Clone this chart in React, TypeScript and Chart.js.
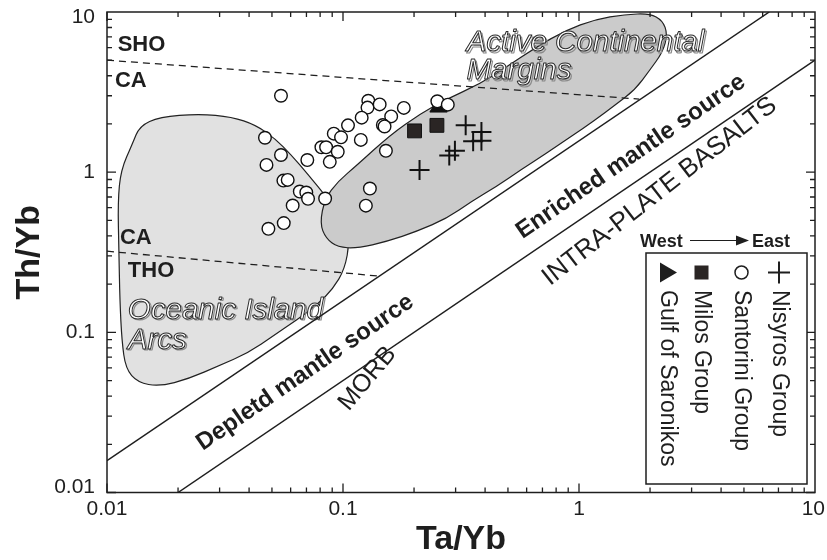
import React, { useEffect, useRef } from "react";
import { Chart, registerables } from "chart.js";

Chart.register(...registerables);

const FONT = '"Liberation Sans", Arial, Helvetica, sans-serif';
const INK = "#1e1e1e";

// Axis ticks (log-log, both axes 0.01–10)
const tickValues = [0.01, 0.1, 1, 10];
const tickLabels = ["0.01", "0.1", "1", "10"];

// Sample groups: Ta/Yb (x) and Th/Yb (y)
const nisyrosTa = [0.331, 0.386, 0.386, 0.356, 0.298, 0.282, 0.211];
const nisyrosTh = [1.96, 1.78, 1.57, 1.56, 1.36, 1.27, 1.03];

const santoriniTa = [
  0.0546, 0.0467, 0.0546, 0.0706, 0.0474, 0.0559, 0.0583, 0.0656, 0.0699, 0.0711,
  0.084, 0.0612, 0.0483, 0.0561, 0.128, 0.127, 0.143, 0.181, 0.12, 0.105,
  0.0914, 0.0981, 0.119, 0.16, 0.1475, 0.15, 0.152, 0.081, 0.0848, 0.095,
  0.0879, 0.13, 0.125, 0.251, 0.278,
];
const santoriniTh = [
  3.0, 1.64, 1.28, 1.19, 1.11, 0.886, 0.895, 0.757, 0.746, 0.682,
  0.685, 0.619, 0.443, 0.481, 2.79, 2.53, 2.65, 2.52, 2.19, 1.96,
  1.74, 1.65, 1.59, 2.23, 1.97, 1.93, 1.36, 1.43, 1.43, 1.34,
  1.16, 0.79, 0.618, 2.77, 2.64,
];

const milosTa = [0.201, 0.25];
const milosTh = [1.81, 1.96];

const saronikosTa = [0.254];
const saronikosTh = [2.55];

// Oceanic Island Arcs field outline
const oiaTa = [
  0.02457, 0.0338, 0.0426, 0.0517, 0.0603, 0.0711, 0.0863, 0.0997, 0.1067, 0.1017,
  0.0905, 0.0783, 0.0646, 0.0507, 0.0398, 0.0298, 0.0223, 0.0167, 0.0135, 0.012,
  0.01156, 0.01134, 0.01123, 0.01112, 0.01145, 0.0128, 0.01375, 0.0167,
];
const oiaTh = [
  2.309, 2.212, 1.972, 1.615, 1.284, 0.965, 0.6846, 0.507, 0.37, 0.248,
  0.1863, 0.1503, 0.1213, 0.0951, 0.0746, 0.0619, 0.0514, 0.0459, 0.0486, 0.0593,
  0.0886, 0.157, 0.3208, 0.656, 1.03, 1.5, 1.944, 2.212,
];

// Active Continental Margins field outline
const acmTa = [
  0.0798, 0.0838, 0.095, 0.1152, 0.1586, 0.2119, 0.2751, 0.3784, 0.4911, 0.6561,
  0.8768, 1.172, 1.565, 1.993, 2.261, 2.373, 2.261, 1.993, 1.725, 1.421,
  1.172, 0.92, 0.7228, 0.5677, 0.4459, 0.3502, 0.2751, 0.2058, 0.154, 0.1152,
  0.095, 0.0846,
];
const acmTh = [
  0.4787, 0.6846, 0.873, 1.113, 1.71, 2.309, 2.861, 3.545, 4.521, 6.018,
  7.676, 8.984, 9.65, 9.79, 8.855, 7.248, 5.603, 4.33, 3.254, 2.626,
  2.119, 1.662, 1.302, 1.036, 0.8127, 0.656, 0.514, 0.4269, 0.37, 0.3348,
  0.3398, 0.3864,
];

// Mantle array boundaries and magma-series dividers
const mantleUpperTa = [0.01, 6.4];
const mantleUpperTh = [0.0158, 10];
const mantleLowerTa = [0.02, 10];
const mantleLowerTh = [0.01, 5];
const shoCaTa = [0.01, 1.8];
const shoCaTh = [5.0, 2.86];
const caThoTa = [0.01, 0.144];
const caThoTh = [0.321, 0.224];

const pts = (xs: number[], ys: number[]) => xs.map((x, i) => ({ x, y: ys[i] }));

const seriesLabels = ["Nisyros Group", "Santorini Group", "Milos Group", "Gulf of Saronikos"];

function smoothClosed(ctx: CanvasRenderingContext2D, p: number[][]) {
  const n = p.length;
  const mid = (a: number[], b: number[]) => [(a[0] + b[0]) / 2, (a[1] + b[1]) / 2];
  const m0 = mid(p[n - 1], p[0]);
  ctx.beginPath();
  ctx.moveTo(m0[0], m0[1]);
  for (let i = 0; i < n; i++) {
    const m = mid(p[i], p[(i + 1) % n]);
    ctx.quadraticCurveTo(p[i][0], p[i][1], m[0], m[1]);
  }
  ctx.closePath();
}

function hollowText(ctx: CanvasRenderingContext2D, text: string, x: number, y: number) {
  ctx.save();
  ctx.font = `italic 29.5px ${FONT}`;
  ctx.textAlign = "left";
  ctx.textBaseline = "alphabetic";
  ctx.lineJoin = "round";
  ctx.strokeStyle = "#8a8a8a";
  ctx.lineWidth = 1.2;
  ctx.strokeText(text, x + 1.5, y + 1.5);
  ctx.fillStyle = "#ffffff";
  ctx.fillText(text, x, y);
  ctx.strokeStyle = "#2a2a2a";
  ctx.lineWidth = 1;
  ctx.strokeText(text, x, y);
  ctx.restore();
}

const fieldsPlugin = {
  id: "fields",
  beforeDatasetsDraw(chart: any) {
    const { ctx, chartArea: a, scales } = chart;
    const X = (v: number) => scales.x.getPixelForValue(v);
    const Y = (v: number) => scales.y.getPixelForValue(v);
    ctx.save();
    ctx.beginPath();
    ctx.rect(a.left, a.top, a.right - a.left, a.bottom - a.top);
    ctx.clip();

    const drawField = (xs: number[], ys: number[], fill: string) => {
      smoothClosed(ctx, xs.map((v, i) => [X(v), Y(ys[i])]));
      ctx.fillStyle = fill;
      ctx.fill();
      ctx.strokeStyle = "#222";
      ctx.lineWidth = 1.2;
      ctx.stroke();
    };
    drawField(oiaTa, oiaTh, "#e1e1e1");
    drawField(acmTa, acmTh, "#cbcbcb");

    // series labels
    ctx.fillStyle = INK;
    ctx.font = `bold 22px ${FONT}`;
    ctx.textAlign = "left";
    ctx.textBaseline = "alphabetic";
    ctx.fillText("SHO", X(0.0111), Y(5.68));
    ctx.fillText("CA", X(0.0108), Y(3.4));
    ctx.fillText("CA", X(0.01134), Y(0.3546));
    ctx.fillText("THO", X(0.01225), Y(0.2212));

    hollowText(ctx, "Oceanic Island", X(0.01225), Y(0.1213));
    hollowText(ctx, "Arcs", X(0.01225), Y(0.079));
    hollowText(ctx, "Active Continental", X(0.3338), Y(5.684));
    hollowText(ctx, "Margins", X(0.3338), Y(3.81));

    const rotated = (text: string, vx: number, vy: number, deg: number, font: string) => {
      ctx.save();
      ctx.translate(X(vx), Y(vy));
      ctx.rotate((deg * Math.PI) / 180);
      ctx.font = font;
      ctx.textAlign = "center";
      ctx.textBaseline = "middle";
      ctx.fillStyle = INK;
      ctx.fillText(text, 0, 0);
      ctx.restore();
    };
    rotated("Depletd mantle source", 0.0691, 0.056, -34.5, `bold 24px ${FONT}`);
    rotated("Enriched mantle source", 1.659, 1.248, -34.5, `bold 24px ${FONT}`);
    rotated("INTRA-PLATE BASALTS", 2.196, 0.7567, -38, `26px ${FONT}`);
    rotated("MORB", 0.127, 0.0514, -50, `25px ${FONT}`);
    ctx.restore();
  },
  afterDraw(chart: any) {
    const { ctx, chartArea: a, scales } = chart;
    const X = (v: number) => scales.x.getPixelForValue(v);
    const Y = (v: number) => scales.y.getPixelForValue(v);
    ctx.save();
    ctx.strokeStyle = INK;
    ctx.lineWidth = 1.5;
    ctx.strokeRect(a.left, a.top, a.right - a.left, a.bottom - a.top);

    // inward ticks on all four sides
    ctx.lineWidth = 1.3;
    ctx.beginPath();
    for (let d = 0; d < tickValues.length - 1; d++) {
      for (let m = 1; m <= 9; m++) {
        const v = tickValues[d] * m;
        const len = m === 1 ? 9 : 5;
        const xp = X(v);
        const yp = Y(v);
        ctx.moveTo(xp, a.bottom);
        ctx.lineTo(xp, a.bottom - len);
        ctx.moveTo(xp, a.top);
        ctx.lineTo(xp, a.top + len);
        ctx.moveTo(a.left, yp);
        ctx.lineTo(a.left + len, yp);
        ctx.moveTo(a.right, yp);
        ctx.lineTo(a.right - len, yp);
      }
    }
    ctx.stroke();

    // tick labels, kept inside the canvas at the ends
    ctx.fillStyle = INK;
    ctx.font = `21px ${FONT}`;
    ctx.textBaseline = "middle";
    tickValues.forEach((v, i) => {
      ctx.textAlign = "right";
      const yp = Math.min(Math.max(Y(v), a.top + 5), a.bottom - 5);
      ctx.fillText(tickLabels[i], a.left - 12, yp);
      ctx.textAlign = "center";
      const w = ctx.measureText(tickLabels[i]).width;
      const xp = Math.min(X(v), 825 - w / 2);
      ctx.fillText(tickLabels[i], xp, a.bottom + 17);
    });

    // axis titles
    ctx.font = `bold 34px ${FONT}`;
    ctx.textAlign = "center";
    ctx.textBaseline = "middle";
    ctx.fillText("Ta/Yb", (a.left + a.right) / 2, 540);
    ctx.save();
    ctx.translate(30, (a.top + a.bottom) / 2);
    ctx.rotate(-Math.PI / 2);
    ctx.fillText("Th/Yb", 0, 0);
    ctx.restore();

    // legend
    const bx = 646, by = 253, bw = 161, bh = 231;
    ctx.fillStyle = "#fff";
    ctx.fillRect(bx, by, bw, bh);
    ctx.lineWidth = 1.5;
    ctx.strokeStyle = INK;
    ctx.strokeRect(bx, by, bw, bh);

    ctx.font = `bold 18px ${FONT}`;
    ctx.textAlign = "left";
    ctx.textBaseline = "alphabetic";
    ctx.fillStyle = INK;
    ctx.fillText("West", 640, 247);
    ctx.fillText("East", 752, 247);
    ctx.beginPath();
    ctx.lineWidth = 1.2;
    ctx.moveTo(690, 240.5);
    ctx.lineTo(738, 240.5);
    ctx.stroke();
    ctx.beginPath();
    ctx.moveTo(749, 240.5);
    ctx.lineTo(736, 235.5);
    ctx.lineTo(736, 245.5);
    ctx.closePath();
    ctx.fill();

    const cols = [667, 701.5, 741.5, 779];
    const symY = 272.5;
    const order = [3, 2, 1, 0];
    order.forEach((si, k) => {
      const cx = cols[k];
      ctx.save();
      ctx.fillStyle = INK;
      ctx.strokeStyle = INK;
      ctx.lineWidth = 1.5;
      if (si === 3) {
        ctx.beginPath();
        ctx.moveTo(cx - 7, symY - 10);
        ctx.lineTo(cx + 10, symY);
        ctx.lineTo(cx - 7, symY + 10);
        ctx.closePath();
        ctx.fill();
      } else if (si === 2) {
        ctx.fillStyle = "#2a2524";
        ctx.fillRect(cx - 7, symY - 7, 14, 14);
      } else if (si === 1) {
        ctx.beginPath();
        ctx.arc(cx, symY, 6.5, 0, Math.PI * 2);
        ctx.fillStyle = "#fff";
        ctx.fill();
        ctx.stroke();
      } else {
        ctx.lineWidth = 2;
        ctx.beginPath();
        ctx.moveTo(cx - 11, symY);
        ctx.lineTo(cx + 11, symY);
        ctx.moveTo(cx, symY - 11);
        ctx.lineTo(cx, symY + 11);
        ctx.stroke();
      }
      ctx.translate(cx, 290);
      ctx.rotate(Math.PI / 2);
      ctx.font = `23px ${FONT}`;
      ctx.textAlign = "left";
      ctx.textBaseline = "middle";
      ctx.fillStyle = INK;
      ctx.fillText(seriesLabels[si], 0, 0);
      ctx.restore();
    });
    ctx.restore();
  },
};

export default function App() {
  const canvasRef = useRef<HTMLCanvasElement | null>(null);

  useEffect(() => {
    if (!canvasRef.current) return;
    const lineStyle = {
      showLine: true,
      pointRadius: 0,
      pointHoverRadius: 0,
      borderColor: INK,
      borderWidth: 1.5,
      fill: false,
    };
    const chart = new Chart(canvasRef.current, {
      type: "scatter",
      data: {
        datasets: [
          {
            label: seriesLabels[0],
            data: pts(nisyrosTa, nisyrosTh),
            pointStyle: "cross",
            pointRadius: 10,
            borderColor: "#111",
            borderWidth: 2,
          },
          {
            label: seriesLabels[1],
            data: pts(santoriniTa, santoriniTh),
            pointStyle: "circle",
            pointRadius: 6.3,
            backgroundColor: "#ffffff",
            borderColor: "#111",
            borderWidth: 1.4,
          },
          {
            label: seriesLabels[2],
            data: pts(milosTa, milosTh),
            pointStyle: "rect",
            pointRadius: 9.8,
            backgroundColor: "#2a2524",
            borderColor: "#111",
            borderWidth: 1,
          },
          {
            label: seriesLabels[3],
            data: pts(saronikosTa, saronikosTh),
            pointStyle: "triangle",
            pointRadius: 10,
            backgroundColor: "#111",
            borderColor: "#111",
            borderWidth: 1,
          },
          { ...lineStyle, label: "mantle-upper", data: pts(mantleUpperTa, mantleUpperTh) },
          { ...lineStyle, label: "mantle-lower", data: pts(mantleLowerTa, mantleLowerTh) },
          {
            ...lineStyle,
            label: "sho-ca",
            data: pts(shoCaTa, shoCaTh),
            borderWidth: 1.3,
            borderDash: [7, 5],
          },
          {
            ...lineStyle,
            label: "ca-tho",
            data: pts(caThoTa, caThoTh),
            borderWidth: 1.3,
            borderDash: [7, 5],
          },
        ],
      },
      options: {
        responsive: false,
        animation: false,
        events: [],
        layout: { padding: { left: 0, right: 5, top: 9.5, bottom: 0 } },
        plugins: {
          legend: { display: false },
          tooltip: { enabled: false },
          title: { display: false },
        },
        scales: {
          x: {
            type: "logarithmic",
            min: 0.01,
            max: 10,
            grid: { display: false, drawTicks: false },
            border: { display: false },
            ticks: { display: false },
            afterFit: (scale: any) => {
              scale.height = 67.5;
              scale.paddingLeft = 0;
              scale.paddingRight = 0;
            },
          },
          y: {
            type: "logarithmic",
            min: 0.01,
            max: 10,
            grid: { display: false, drawTicks: false },
            border: { display: false },
            ticks: { display: false },
            afterFit: (scale: any) => {
              scale.width = 107;
              scale.paddingTop = 0;
              scale.paddingBottom = 0;
            },
          },
        },
      },
      plugins: [fieldsPlugin],
    } as any);
    return () => chart.destroy();
  }, []);

  return (
    <div style={{ position: "fixed", left: 0, top: 0, width: 827, height: 560, background: "#fff" }}>
      <canvas ref={canvasRef} width={827} height={560} style={{ display: "block" }} />
    </div>
  );
}
